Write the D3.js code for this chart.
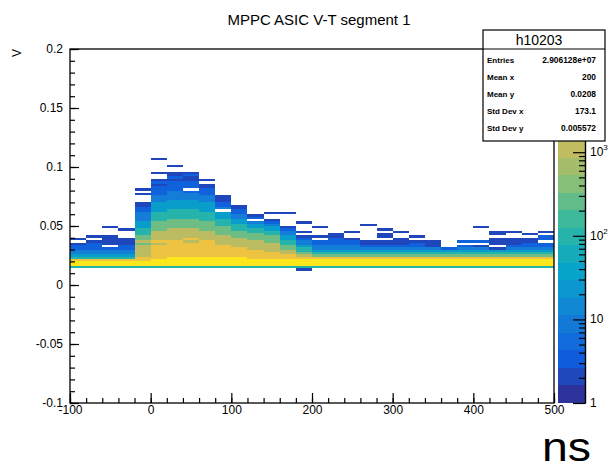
<!DOCTYPE html>
<html>
<head>
<meta charset="utf-8">
<script src="https://cdn.jsdelivr.net/npm/d3@7"></script>
<style>
  body { margin: 0; background: #fff; }
  text { font-family: "Liberation Sans", Arial, sans-serif; }
</style>
</head>
<body>
<script>
// lower edges of the time bins (ns), 20 ns wide
var timeBins = [-100, -80, -60, -40, -20, 0, 20, 40, 60, 80, 100, 120, 140, 160, 180,
                200, 220, 240, 260, 280, 300, 320, 340, 360, 380, 400, 420, 440, 460, 480];
var timeBinWidth = 20;

// lower edges of the voltage bins (V), 0.002 V wide
var voltBins = [0.012, 0.014, 0.016, 0.018, 0.020, 0.022, 0.024, 0.026, 0.028, 0.030,
                0.032, 0.034, 0.036, 0.038, 0.040, 0.042, 0.044, 0.046, 0.048, 0.050,
                0.052, 0.054, 0.056, 0.058, 0.060, 0.062, 0.064, 0.066, 0.068, 0.070,
                0.072, 0.074, 0.076, 0.078, 0.080, 0.082, 0.084, 0.086, 0.088, 0.090,
                0.092, 0.094, 0.096, 0.098, 0.100, 0.102, 0.104, 0.106];
var voltBinWidth = 0.002;

// rough bin content per level
var levelCounts = [0, 2, 4, 10, 30, 100, 300, 1000, 3000, 10000];

// one list per time bin, from the lowest voltage bin upwards (level index)
var cellLevels = [
  [0,5,9,9,8,5,4,3,3,2, 2,1,0,1],
  [0,5,9,9,8,5,4,3,3,2, 2,2,1,0,1],
  [0,5,9,9,8,5,4,3,3,2, 0,1,1,1,1,0,0,0,1],
  [0,5,9,9,8,5,4,3,3,2, 2,1,1,1,0,0,0,1],
  [0,5,9,9,8,8,7,7,7,7, 7,6,7,6,6,5,5,5,4,4, 4,3,3,3,3,2,2,1,1,0, 0,0,1,0,1],
  [0,5,9,9,9,8,8,8,8,8, 8,7,8,7,7,7,7,6,6,6, 6,5,5,5,5,4,4,4,4,3, 3,3,2,2,2,2,1,2,1,0, 0,1,0,0,0,0,0,1],
  [0,5,9,9,9,9,8,8,8,8, 8,8,8,7,7,7,7,7,6,6, 6,6,5,5,5,5,4,4,4,4, 3,3,3,3,2,2,2,2,1,2, 1,1,0,0,1],
  [0,5,9,9,9,9,8,8,8,8, 8,8,7,8,7,7,7,7,6,6, 6,6,5,5,5,5,4,4,4,4, 3,3,3,2,0,2,2,2,1,1, 2,1],
  [0,5,9,9,9,9,8,8,8,8, 8,8,8,7,7,7,7,6,6,6, 6,5,5,5,5,4,4,4,4,3, 3,3,2,2,2,1,1,0,1],
  [0,5,9,9,9,9,8,8,8,8, 8,7,7,7,7,6,6,6,6,5, 5,5,4,4,4,0,3,2,2,1, 1,1],
  [0,5,9,9,9,9,8,8,8,8, 7,7,7,7,6,6,6,5,5,5, 4,4,3,3,2,2,1,1],
  [0,5,9,9,9,8,8,8,8,7, 7,7,7,6,6,6,5,5,4,4, 3,0,2,1],
  [0,5,9,9,9,8,8,8,7,7, 7,7,6,6,6,5,5,4,4,3, 2,1,0,0,1],
  [0,5,9,9,9,8,8,7,7,6, 6,5,5,4,4,3,3,2,1,0, 0,0,0,0,1],
  [1,5,9,9,9,8,7,6,5,5, 4,3,3,2,1,0,1,0,0,0, 1],
  [0,5,9,9,9,8,6,5,4,3, 3,2,2,0,1,0,0,0,1],
  [0,5,9,9,9,8,6,5,4,3, 3,2,2,2,1,1],
  [0,5,9,9,9,8,6,5,4,3, 3,2,2,1,0,0,1],
  [0,5,9,9,9,8,6,5,4,3, 2,1,1,0,0,0,0,0,0,1],
  [0,5,9,9,9,8,6,5,4,3, 2,1,1,0,1,1,0,1],
  [0,5,9,9,9,8,6,5,4,3, 2,1,1,1,0,0,1],
  [0,5,9,9,9,8,6,5,4,3, 2,2,1,0,1],
  [0,5,9,9,9,8,6,5,4,3, 1,1,1],
  [0,5,9,9,9,8,6,5,4,2],
  [0,5,9,9,9,8,6,5,4,3, 2,0,2],
  [0,5,9,9,9,8,6,5,4,3, 1,0,2,0,0,0,0,0,1],
  [0,5,9,9,9,8,6,5,4,1, 0,1,1,1,0,1,1],
  [0,5,9,9,9,8,6,5,4,3, 2,1,1,1,0,0,1],
  [0,5,9,9,9,8,6,5,4,3, 2,2,1,1,0,1],
  [0,5,9,9,9,8,6,5,4,3, 2,2,0,2,2,0,1]
];

var xTicks = [-100, 0, 100, 200, 300, 400, 500];
var yTicks = [-0.1, -0.05, 0, 0.05, 0.1, 0.15, 0.2];
var zTicks = [1, 10, 100, 1000];
var zTickLabels = [["1", ""], ["10", ""], ["10", "2"], ["10", "3"]];
var zMax = 1400;

var statLabels = ["Entries", "Mean x", "Mean y", "Std Dev x", "Std Dev y"];
var statValues = ["2.906128e+07", "200", "0.0208", "173.1", "0.005572"];

// ROOT kBird palette
var birdStops = ["#35298b", "#0f5cdd", "#1481d6", "#06a4ca", "#2eb7a4",
                 "#87bf77", "#d1bb59", "#fec832", "#f9fb0e"];

var w = 611, h = 467;

var svg = d3.select("body").append("svg")
    .attr("width", w)
    .attr("height", h);

var xScale = d3.scaleLinear().domain([-100, 500]).range([70, 554]);
var yScale = d3.scaleLinear().domain([-0.1, 0.2]).range([403, 49]);

var bird = d3.scaleLinear()
    .domain(d3.range(birdStops.length).map(function (i) { return i / (birdStops.length - 1); }))
    .range(birdStops)
    .interpolate(d3.interpolateRgb);
var zColor = d3.scaleLog().domain([1, 16000]).range([0, 1]).clamp(true);

// cells
var cells = [];
cellLevels.forEach(function (col, i) {
    col.forEach(function (lv, k) {
        if (lv > 0) cells.push({ t: timeBins[i], v: voltBins[k], n: levelCounts[lv] });
    });
});

svg.append("g").selectAll("rect")
    .data(cells)
    .enter()
    .append("rect")
    .attr("x", function (d) { return xScale(d.t); })
    .attr("width", function (d) { return xScale(d.t + timeBinWidth) - xScale(d.t); })
    .attr("y", function (d) { return yScale(d.v + voltBinWidth); })
    .attr("height", function (d) { return yScale(d.v) - yScale(d.v + voltBinWidth); })
    .attr("fill", function (d) { return bird(zColor(d.n)); })
    .attr("shape-rendering", "crispEdges");

// frame
svg.append("rect")
    .attr("x", 70).attr("y", 49)
    .attr("width", 484).attr("height", 354)
    .attr("fill", "none")
    .attr("stroke", "#000")
    .attr("stroke-width", 1.3);

// axes
var xMinor = d3.axisBottom(xScale).tickValues(d3.range(-100, 501, 20))
    .tickSizeInner(-5).tickSizeOuter(0).tickFormat("");
var xMajor = d3.axisBottom(xScale).tickValues(xTicks)
    .tickSizeInner(-10).tickSizeOuter(0).tickPadding(2)
    .tickFormat(function (d) { return String(d); });
var yMinor = d3.axisLeft(yScale).tickValues(d3.range(-10, 21).map(function (i) { return i / 100; }))
    .tickSizeInner(-5).tickSizeOuter(0).tickFormat("");
var yMajor = d3.axisLeft(yScale).tickValues(yTicks)
    .tickSizeInner(-9).tickSizeOuter(0).tickPadding(7)
    .tickFormat(function (d) { return String(d); });

[xMinor, xMajor].forEach(function (ax) {
    svg.append("g").attr("class", "axis").attr("transform", "translate(0,403)").call(ax);
});
[yMinor, yMajor].forEach(function (ax) {
    svg.append("g").attr("class", "axis").attr("transform", "translate(70,0)").call(ax);
});
svg.selectAll(".axis .domain").remove();
svg.selectAll(".axis line").attr("stroke", "#000").attr("stroke-width", 1.2);
svg.selectAll(".axis text")
    .attr("font-size", 12)
    .attr("font-family", "Liberation Sans, Arial, sans-serif")
    .attr("fill", "#000");

// title and axis titles
svg.append("text")
    .attr("x", 319).attr("y", 25)
    .attr("text-anchor", "middle")
    .attr("font-size", 15)
    .text("MPPC ASIC V-T segment 1");

svg.append("text")
    .attr("transform", "translate(21,49) rotate(-90)")
    .attr("text-anchor", "end")
    .attr("font-size", 12)
    .text("V");

svg.append("text")
    .attr("x", 542).attr("y", 461)
    .attr("font-family", "Open Sans, sans-serif")
    .attr("font-size", 40)
    .attr("textLength", 49)
    .attr("lengthAdjust", "spacingAndGlyphs")
    .text("ns");

// colour bar
var zScale = d3.scaleLog().domain([1, zMax]).range([403, 140]);
var nBands = 15;
var bandEdges = d3.range(nBands + 1).map(function (i) { return Math.pow(zMax, i / nBands); });
var bands = d3.pairs(bandEdges);

svg.append("g").selectAll("rect")
    .data(bands)
    .enter()
    .append("rect")
    .attr("x", 557.5)
    .attr("width", 27.5)
    .attr("y", function (d) { return zScale(d[1]); })
    .attr("height", function (d) { return zScale(d[0]) - zScale(d[1]); })
    .attr("fill", function (d) { return bird(zColor(Math.sqrt(d[0] * d[1]))); })
    .attr("shape-rendering", "crispEdges");

var zMinorVals = [];
[1, 10, 100, 1000].forEach(function (dec) {
    for (var m = 2; m <= 9; m++) if (dec * m <= zMax) zMinorVals.push(dec * m);
});
var zMinor = d3.axisRight(zScale).tickValues(zMinorVals).tickSizeInner(-6).tickSizeOuter(0).tickFormat("");
var zMajor = d3.axisRight(zScale).tickValues(zTicks).tickSizeInner(-12).tickSizeOuter(0).tickFormat("");
[zMinor, zMajor].forEach(function (ax) {
    svg.append("g").attr("class", "zaxis").attr("transform", "translate(585,0)").call(ax);
});
svg.selectAll(".zaxis .domain").attr("stroke", "#000").attr("stroke-width", 1.2);
svg.selectAll(".zaxis line").attr("stroke", "#000").attr("stroke-width", 1.2);

var zLab = svg.append("g").selectAll("text")
    .data(zTicks)
    .enter()
    .append("text")
    .attr("x", 590)
    .attr("y", function (d) { return zScale(d) + 4; })
    .attr("font-size", 12);
zLab.append("tspan").text(function (d, i) { return zTickLabels[i][0]; });
zLab.append("tspan").attr("dy", -6).attr("font-size", 8)
    .text(function (d, i) { return zTickLabels[i][1]; });

// stats box
var stats = svg.append("g");
stats.append("rect")
    .attr("x", 483).attr("y", 30)
    .attr("width", 122).attr("height", 111)
    .attr("fill", "#fff").attr("stroke", "#000").attr("stroke-width", 1.2);
stats.append("line")
    .attr("x1", 483).attr("x2", 605).attr("y1", 49).attr("y2", 49)
    .attr("stroke", "#000").attr("stroke-width", 1.2);
stats.append("text")
    .attr("x", 539).attr("y", 45)
    .attr("text-anchor", "middle")
    .attr("font-size", 14)
    .text("h10203");
statLabels.forEach(function (lab, i) {
    stats.append("text")
        .attr("x", 487).attr("y", 63 + i * 17)
        .attr("font-size", 8).attr("font-weight", "bold")
        .text(lab);
    stats.append("text")
        .attr("x", 596).attr("y", 63 + i * 17)
        .attr("text-anchor", "end")
        .attr("font-size", 8.4).attr("font-weight", "bold")
        .text(statValues[i]);
});
</script>
</body>
</html>
